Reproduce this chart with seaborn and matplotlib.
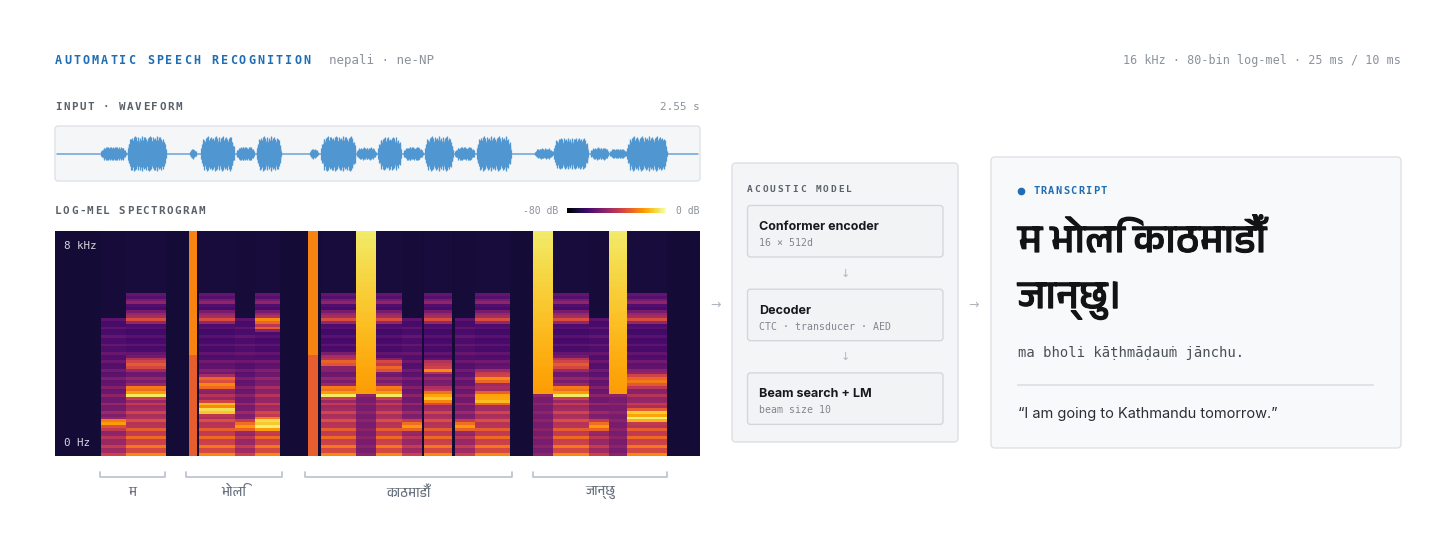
import numpy as np
import matplotlib
matplotlib.use("Agg")
import matplotlib.pyplot as plt
import matplotlib.patheffects as pe
import seaborn as sns
from matplotlib import font_manager
from matplotlib.ft2font import FT2Font
from matplotlib.patches import FancyBboxPatch

# ---- data -------------------------------------------------------------
# phones of "ma bholi kathmadaum janchu", times in ms
phone_labels = ["m", "a", "bh", "o", "l", "i", "k", "a", "ṭh", "a", "m", "ā",
                "ḍ", "au", "j", "ā", "n", "ch", "u"]
phone_start = [180, 285, 530, 575, 715, 795, 1005, 1050, 1190, 1275, 1375,
               1460, 1580, 1665, 1895, 1970, 2115, 2190, 2260]
phone_end = [280, 440, 560, 710, 790, 895, 1040, 1190, 1270, 1370, 1455,
             1575, 1660, 1805, 1970, 2110, 2190, 2260, 2420]
phone_kind = ["nasal", "vowel", "burst", "vowel", "nasal", "vowel", "burst",
              "vowel", "fric", "vowel", "nasal", "vowel", "nasal", "vowel",
              "fric", "vowel", "nasal", "fric", "vowel"]
wave_amp = [0.25, 0.63, 0.2, 0.62, 0.25, 0.62, 0.2, 0.63, 0.22, 0.6, 0.24,
            0.62, 0.24, 0.62, 0.19, 0.57, 0.22, 0.18, 0.62]
# formant lines, fraction of the mel axis from the bottom
formant_lo = [0.14, 0.27, None, 0.20, 0.13, 0.13, None, 0.27, None, 0.27,
              0.13, 0.25, 0.13, 0.245, None, 0.27, 0.13, None, 0.165]
formant_hi = [None, 0.40, None, 0.315, None, 0.57, None, 0.41, None, 0.39,
              None, 0.38, None, 0.335, None, 0.40, None, None, 0.325]

word_labels = ["म", "भोलि", "काठमाडौँ", "जान्छु"]
word_start = [178, 518, 988, 1890]
word_end = [435, 897, 1806, 2419]

duration_ms = 2550
n_mel = 80

# ---- fonts ------------------------------------------------------------
sns.set_theme(style="white")
MONO = "DejaVu Sans Mono"
SANS = "Inter"
deva = None
for fe in font_manager.fontManager.ttflist:
    try:
        if 0x092E in FT2Font(fe.fname).get_charmap():
            deva = fe.name
            if "Devanagari" in fe.name:
                break
    except Exception:
        pass
DEVA = [deva, "DejaVu Sans"] if deva else ["DejaVu Sans"]
plt.rcParams["font.family"] = ["DejaVu Sans"]

BLUE = "#1f6db3"
GRAY = "#8b929b"
DARK = "#5a616a"

W, H = 1456, 556
fig = plt.figure(figsize=(W / 100, H / 100), dpi=100)
fig.patch.set_facecolor("white")
ax = fig.add_axes([0, 0, 1, 1])
ax.set_xlim(0, W)
ax.set_ylim(H, 0)
ax.axis("off")


def px_axes(x0, y0, x1, y1):
    return fig.add_axes([x0 / W, 1 - y1 / H, (x1 - x0) / W, (y1 - y0) / H])


def box(x0, y0, x1, y1, fc, ec, r=4, lw=1.0):
    ax.add_patch(FancyBboxPatch((x0, y0), x1 - x0, y1 - y0,
                                boxstyle=f"round,pad=0,rounding_size={r}",
                                fc=fc, ec=ec, lw=lw))


def spaced(x, y, s, pitch, size, **kw):
    cw = 0.602 * size * 100 / 72
    for i, ch in enumerate(s):
        if ch != " ":
            ax.text(x + i * pitch + cw / 2, y, ch, ha="center", va="baseline",
                    size=size, family=MONO, **kw)


# ---- header -----------------------------------------------------------
spaced(55, 64, "AUTOMATIC SPEECH RECOGNITION", 9.2, 8.5, color=BLUE, weight="bold")
ax.text(329, 64, "nepali · ne-NP", size=9, family=MONO, color=GRAY)
ax.text(1401, 64, "16 kHz · 80-bin log-mel · 25 ms / 10 ms", ha="right",
        size=8.5, family=MONO, color=GRAY)

spaced(55, 110, "INPUT · WAVEFORM", 8.0, 7.8, color=DARK, weight="bold")
ax.text(700, 110, "2.55 s", ha="right", size=7.9, family=MONO, color=GRAY)
spaced(55, 214, "LOG-MEL SPECTROGRAM", 7.97, 7.8, color=DARK, weight="bold")
ax.text(558, 214, "-80 dB", ha="right", size=7, family=MONO, color=GRAY)
ax.text(700, 214, "0 dB", ha="right", size=7, family=MONO, color=GRAY)

# ---- waveform ---------------------------------------------------------
box(55, 126, 700, 181, "#f4f6f8", "#dfe3e8", r=3)
ax_w = px_axes(55, 126, 700, 181)
ax_w.set_xlim(0, duration_ms)
ax_w.set_ylim(-1, 1)
ax_w.axis("off")
ax_w.patch.set_alpha(0)
ax_w.axhline(0, color="#6aa3d6", lw=1.1, xmin=0.003, xmax=0.997)
jag = np.array([1.0, 0.78, 0.93, 0.7, 0.97, 0.84, 0.66, 0.9, 0.8, 0.95])
for s, e, a in zip(phone_start, phone_end, wave_amp):
    t = np.arange(s, e, 3.0)
    edge = np.clip(np.minimum(t - s, e - t) / 16, 0, 1) ** 0.5
    top = a * edge * np.resize(jag, t.size)
    bot = a * edge * np.resize(jag[::-1], t.size)
    ax_w.fill_between(t, -0.75 * a * edge, 0.75 * a * edge, color="#8dbde6", lw=0)
    ax_w.vlines(t, -bot, top, color="#5096d0", lw=0.9)

# ---- spectrogram ------------------------------------------------------
fr = np.arange(n_mel) / (n_mel - 1)
harm = 0.5 + 0.5 * np.cos(2 * np.pi * np.arange(n_mel) / 3)


def bump(c, w=0.015):
    return np.exp(-((fr - c) / w) ** 2)


def column(kind, lo, hi):
    if kind == "vowel":
        body = np.interp(fr, [0, 0.1, 0.3, 0.45, 0.58, 0.73],
                         [0.68, 0.6, 0.42, 0.26, 0.23, 0.26])
        body = body * (0.78 + 0.3 * harm)
        col = np.where(fr < 0.73, body, 0.105)
        col = col + 0.32 * bump(0.605) + 0.2 * bump(0.63) + 0.14 * bump(0.69)
        col = col + 0.48 * bump(lo) + 0.3 * bump(lo + 0.028)
        col = col + 0.38 * bump(hi) + 0.24 * bump(hi + 0.028)
    elif kind == "nasal":
        body = np.interp(fr, [0, 0.2, 0.4, 0.62], [0.5, 0.38, 0.28, 0.24])
        body = body * (0.8 + 0.3 * harm)
        col = np.where(fr < 0.62, body, 0.1)
        col = col + 0.42 * bump(lo, 0.017)
    elif kind == "burst":
        col = np.where(fr < 0.45, 0.64, 0.73)
    else:
        col = np.where(fr < 0.27, 0.32 + 0.06 * harm, 0.72 + 0.22 * fr)
    return col


spec = np.full((n_mel, duration_ms // 10), 0.095)
for s, e, k, lo, hi in zip(phone_start, phone_end, phone_kind, formant_lo, formant_hi):
    spec[:, s // 10:e // 10] = column(k, lo or -1, hi or -1)[:, None]
spec = np.clip(spec, 0, 1)

ax_s = px_axes(55, 231, 700, 456)
sns.heatmap(spec[::-1], cmap="inferno", vmin=0, vmax=1, cbar=False, ax=ax_s,
            xticklabels=False, yticklabels=False)
ax_s.set_xlabel("")
ax_s.set_ylabel("")
ax_s.text(0.014, 0.92, "8 kHz", transform=ax_s.transAxes, size=7.8,
          family=MONO, color="#d5d8e0")
ax_s.text(0.014, 0.044, "0 Hz", transform=ax_s.transAxes, size=7.8,
          family=MONO, color="#d5d8e0")

tr = ax_s.get_xaxis_transform()
for lab, s, e in zip(word_labels, word_start, word_end):
    x0, x1 = s / 10, e / 10
    ax_s.plot([x0, x0, x1, x1], [-0.069, -0.093, -0.093, -0.069], transform=tr,
              clip_on=False, color="#bac1cc", lw=1.2)
    ax_s.text((x0 + x1) / 2, -0.16, lab, transform=tr, ha="center", va="center",
              size=9.5, family=DEVA, color="#6b7280")

# colorbar
cax = px_axes(567, 207.5, 666, 212.5)
sns.heatmap(np.linspace(0, 1, 120)[None, :], cmap="inferno", cbar=False, ax=cax,
            xticklabels=False, yticklabels=False)
cax.axis("off")

# ---- acoustic model ---------------------------------------------------
ARROW = "#b0b6be"
ax.text(716, 305, "→", ha="center", va="center", size=9, color=ARROW)
ax.text(974, 305, "→", ha="center", va="center", size=9, color=ARROW)

box(732, 163, 958, 442, "#f4f5f7", "#dcdfe4")
spaced(747, 192, "ACOUSTIC MODEL", 7.6, 6.8, color=DARK, weight="bold")
stages = [("Conformer encoder", "16 × 512d"),
          ("Decoder", "CTC · transducer · AED"),
          ("Beam search + LM", "beam size 10")]
for i, (title, sub) in enumerate(stages):
    y0 = 205.5 + i * 83.7
    box(747.5, y0, 943, y0 + 51.5, "#f2f3f5", "#d3d7dd", r=3)
    ax.text(759, y0 + 24.5, title, size=9.0, family=SANS, weight="bold",
            color="#16191d")
    ax.text(759, y0 + 40.5, sub, size=7.1, family=MONO, color="#80868e")
    if i < 2:
        ax.text(845, y0 + 68, "↓", ha="center", va="center", size=8, color=ARROW)

# ---- transcript -------------------------------------------------------
box(991, 157, 1401, 448, "#f8f9fb", "#dfe2e6")
ax.plot(1021, 190.5, "o", ms=4.5, color=BLUE)
spaced(1033, 194, "TRANSCRIPT", 7.5, 7.5, color=BLUE, weight="bold")
heavy = [pe.withStroke(linewidth=0.9, foreground="#111315")]
ax.text(1018, 252, "म भोलि काठमाडौँ", size=28.5, family=DEVA, weight="bold",
        color="#111315", path_effects=heavy)
ax.text(1018, 308, "जान्छु।", size=28.5, family=DEVA, weight="bold",
        color="#111315", path_effects=heavy)
ax.text(1018, 357, "ma bholi kāṭhmāḍauṁ jānchu.", size=10, family=MONO,
        color="#4a5058")
ax.plot([1018, 1373], [385, 385], color="#dfe2e6", lw=1.5)
ax.text(1018, 418, "“I am going to Kathmandu tomorrow.”", size=10.5,
        family=SANS, color="#2a2f35")

fig.savefig("out.png", dpi=100, facecolor="white")
